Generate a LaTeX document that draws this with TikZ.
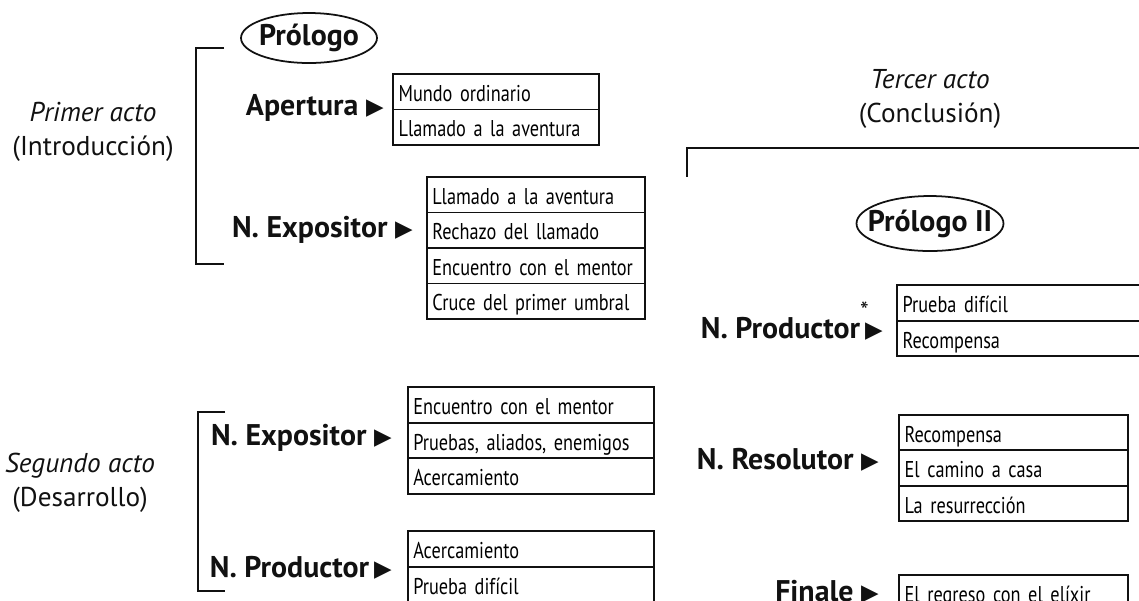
\documentclass[tikz,border=0pt]{standalone}
\usepackage{fontspec}
\setmainfont{PT Sans}
\newfontfamily\condfont[FakeStretch=0.8]{PT Sans}
\newfontfamily\symfont{DejaVu Sans}
\usepackage{tikz}
\usetikzlibrary{matrix,shapes.geometric,positioning}
\definecolor{ink}{HTML}{111111}
\newcommand{\tri}{\raisebox{0.5pt}{\symfont\fontsize{13}{13}\selectfont\char"25B6}}
\tikzset{
  act/.style={text=ink, align=center, font=\fontsize{15.5}{19.5}\selectfont},
  part/.style={text=ink, inner sep=0pt, anchor=east, font=\bfseries\fontsize{17}{20}\selectfont},
  pro/.style={text=ink, inner sep=0pt, font=\bfseries\fontsize{17}{20}\selectfont},
  oval/.style={draw=ink, line width=1pt},
  brk/.style={draw=ink, line width=0.8pt},
  stage/.style={matrix of nodes, anchor=north west, inner sep=0pt, row sep=-1.1pt,
    nodes={draw=ink, line width=1.1pt, text width=#1, align=left, inner xsep=3pt,
      minimum height=0.71cm, text height=12pt, text depth=1pt,
      font=\condfont\fontsize{13}{15}\selectfont}},
}
\begin{document}
\begin{tikzpicture}[x=0.02cm,y=-0.02cm]
\useasboundingbox (0,0) rectangle (1139,600);
\clip (0,0) rectangle (1139,600);
\node[act] (act1) at (93,132) {\textit{Primer acto}\\(Introducción)};
\node[act] (act2) at (80,483) {\textit{Segundo acto}\\(Desarrollo)};
\node[act] (act3) at (930,99) {\textit{Tercer acto}\\(Conclusión)};
\draw[brk] (224,48) -| (196,264) -- (224,264);
\draw[brk] (225,412) -| (198,591) -- (225,591);
\draw[brk] (1160,148) -| (687,177);
\node[pro] (prol1) at (309,38) {Prólogo};
\draw[oval] (prol1.center) ellipse [x radius=1.36cm, y radius=0.5cm];
\node[pro] (prol2) at (930,223.5) {Prólogo II};
\draw[oval] (prol2.center) ellipse [x radius=1.47cm, y radius=0.55cm];
\node[part] (aper) at (384,108) {Apertura \tri};
\node[part] (expo1) at (413,230) {N. Expositor \tri};
\node[part] (expo2) at (392,438) {N. Expositor \tri};
\node[part] (prod2) at (392,568) {N. Productor\,\tri};
\node[part] (prod3) at (883,321) {N. Productor\rlap{\raisebox{1.3ex}{\normalfont\fontsize{14}{14}\selectfont *}}\,\tri};
\node[part] (reso) at (879,460) {N. Resolutor \tri};
\node[part] (fina) at (879,592) {Finale \tri};
\matrix[stage=3.91cm] (ape) at (392,72.7) {
Mundo ordinario \\
Llamado a la aventura \\
};
\matrix[stage=4.15cm] (exp1) at (425.7,175.7) {
Llamado a la aventura \\
Rechazo del llamado \\
Encuentro con el mentor \\
Cruce del primer umbral \\
};
\matrix[stage=4.71cm] (exp2) at (406.7,386) {
Encuentro con el mentor \\
Pruebas, aliados, enemigos \\
Acercamiento \\
};
\matrix[stage=4.71cm] (pro2) at (406.7,530) {
Acercamiento \\
Prueba difícil \\
};
\matrix[stage=5cm] (pro3) at (896,284) {
Prueba difícil \\
Recompensa \\
};
\matrix[stage=4.37cm] (res) at (898,413.3) {
Recompensa \\
El camino a casa \\
La resurrección \\
};
\matrix[stage=4.37cm] (fin) at (898,573.3) {
El regreso con el elíxir \\
};
\end{tikzpicture}
\end{document}
